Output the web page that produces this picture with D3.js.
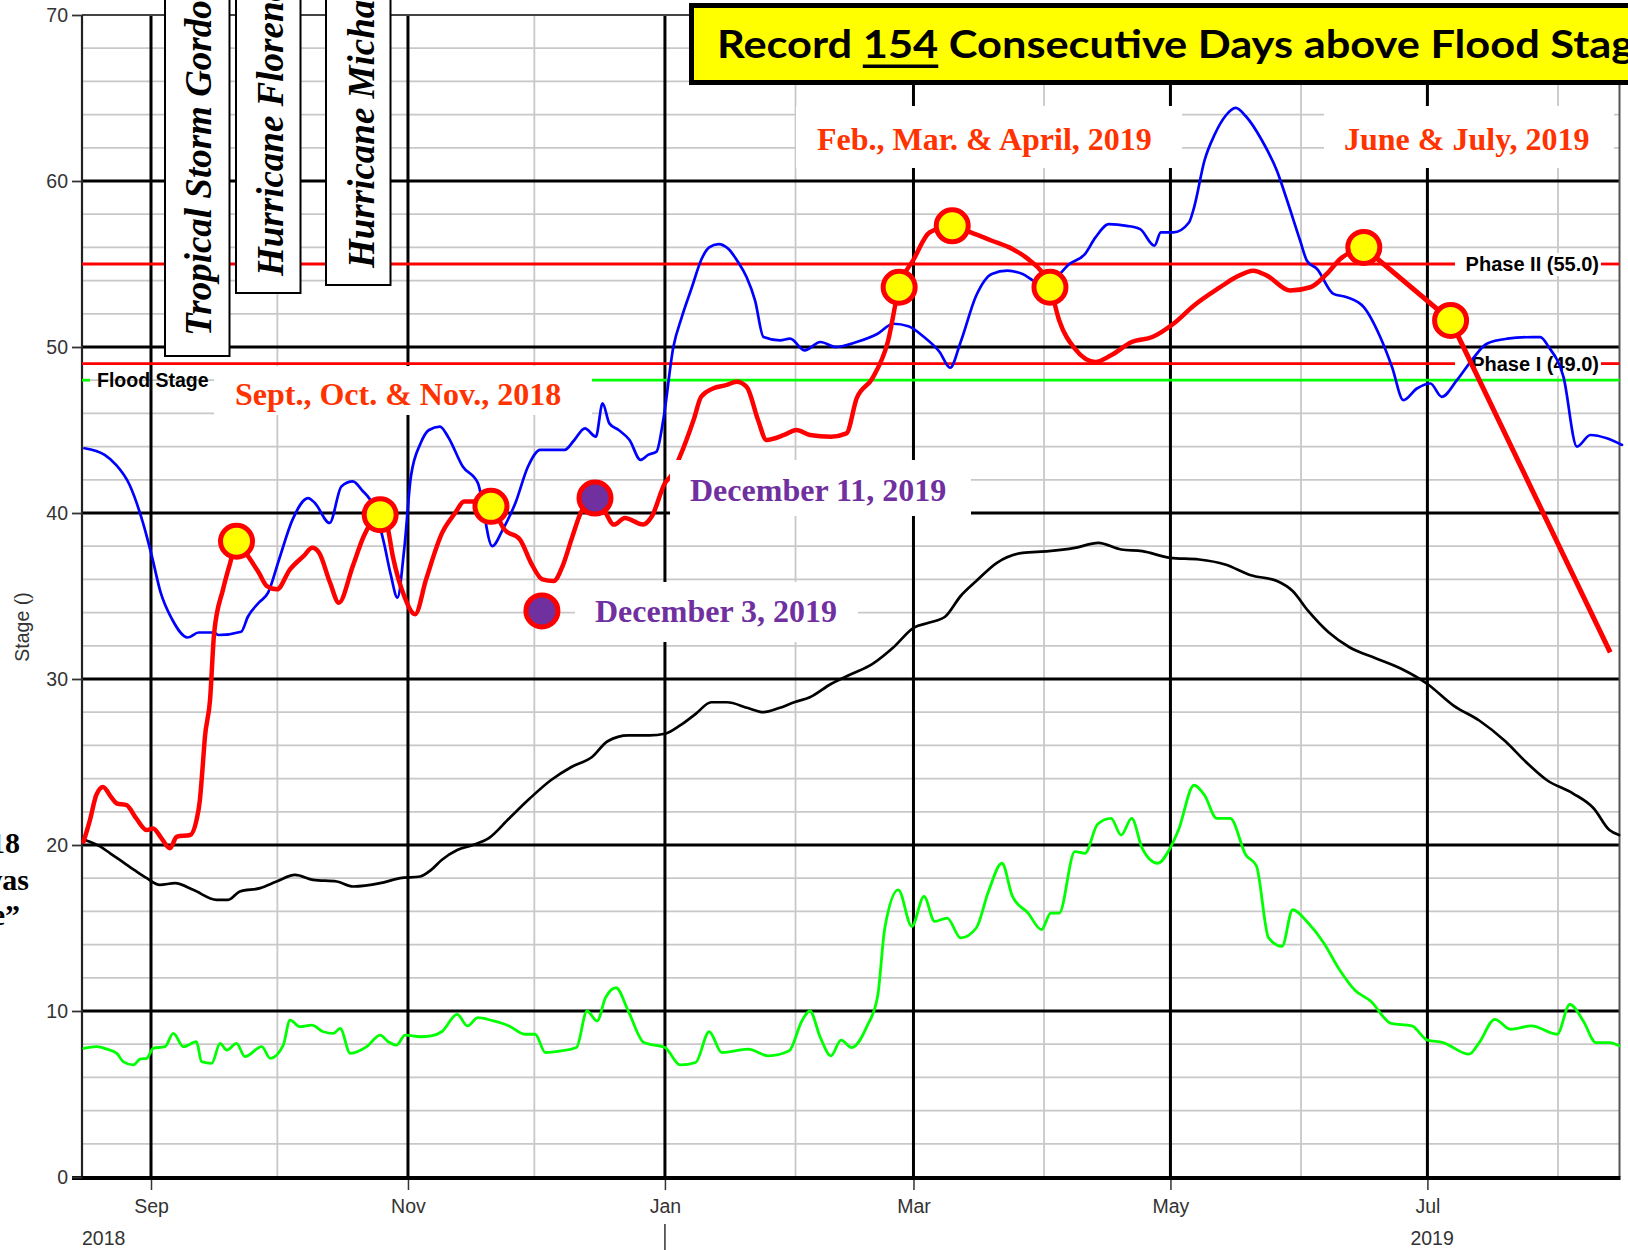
<!DOCTYPE html>
<html><head><meta charset="utf-8">
<script src="https://cdn.jsdelivr.net/npm/d3@7/dist/d3.min.js"></script>
<style>body{margin:0;background:#fff;}svg{display:block;}</style>
</head><body>
<svg id="chart" width="1628" height="1250"></svg>
<script>
// ---- data (day offsets from 2018-09-01, stage in ft) ----
const yTicks = [0, 10, 20, 30, 40, 50, 60, 70];
const monthLabels = ["Sep", "Nov", "Jan", "Mar", "May", "Jul"];
const majorMonths = ["2018-09-01", "2018-11-01", "2019-01-01", "2019-03-01", "2019-05-01", "2019-07-01"];
const minorMonths = ["2018-10-01", "2018-12-01", "2019-02-01", "2019-04-01", "2019-06-01", "2019-08-01"];
const yearLabels = ["2018", "2019"];
const floodStage = 48.0;
const phaseLevels = [55.0, 49.0];
const phaseLabels = ["Phase II (55.0)", "Phase I (49.0)"];

const blueSeries = [[-15.8,43.9],[-11,43.5],[-8.3,42.9],[-5.1,41.7],[-1.9,39.4],[0.2,37.4],[2.3,35.2],[5,33.6],[8.7,32.5],[11.3,32.8],[15,32.8],[16,32.65],[21.4,32.85],[23,33.75],[25.6,34.6],[27.8,35.2],[30.4,37.2],[33.6,39.6],[37.3,40.9],[38.9,40.6],[42.4,39.4],[45.2,41.6],[47.9,41.9],[50,41.4],[53.2,40.2],[55.3,38.2],[56.9,36.3],[58.5,34.9],[60.1,37.8],[61.7,42.2],[64,44.2],[66,45.0],[68.6,45.2],[70.5,44.6],[74,42.8],[77.6,41.8],[81,38.0],[83.5,39.0],[86.5,40.6],[89.5,42.8],[92.4,43.8],[98.2,43.8],[100.5,44.4],[103,45.1],[105.6,44.6],[107.2,46.6],[108.8,45.4],[111,45.0],[113.6,44.4],[116.2,43.2],[118,43.5],[120,43.7],[121.6,45.6],[124,50.0],[126,51.8],[128.4,53.6],[130.7,55.3],[132.5,56.0],[134.7,56.2],[137.1,55.9],[139.4,55.1],[141.4,54.2],[143.4,52.8],[145.4,50.6],[149.3,50.4],[151.7,50.5],[155.2,49.8],[158.9,50.3],[162.6,50.0],[167.5,50.3],[172.5,50.8],[176.2,51.4],[179.8,51.25],[183.5,50.6],[187.2,49.7],[189.7,48.75],[192.2,50.3],[195.9,53.1],[199.6,54.4],[203.3,54.6],[206.9,54.4],[210.6,53.9],[214.3,54.1],[218.0,55.0],[221.7,55.6],[224.2,56.6],[227.4,57.4],[231.6,57.3],[234.8,57.1],[238.2,56.1],[239.7,56.9],[242.7,56.9],[246.4,57.5],[247.6,58.4],[250.1,61.25],[252.5,62.8],[255.0,63.9],[257.5,64.4],[259.9,63.9],[263.6,62.5],[267.3,60.6],[269.6,58.9],[272.8,56.4],[274.4,55.2],[276.8,54.7],[280.7,53.2],[283.9,53.0],[287.9,52.4],[291.8,50.6],[294.6,48.8],[297.3,46.8],[300.5,47.5],[303.7,47.8],[306.4,47.0],[310,48.0],[313.5,49.2],[317.1,50.2],[321.9,50.5],[328.2,50.6],[329.8,50.6],[331.8,50.0],[335.3,48.2],[338.5,44.0],[341.7,44.7],[345.6,44.5],[349.2,44.1]];

const redSeries = [[-16.0,20.2],[-14.5,21.5],[-13,23.0],[-11.4,23.5],[-9.5,22.9],[-8.1,22.5],[-5.8,22.4],[-3.5,21.6],[-1,20.9],[0.5,21.0],[2.5,20.4],[4.5,19.8],[6.1,20.5],[9.3,20.6],[10.8,21.5],[11.6,22.7],[12.2,24.5],[12.8,26.5],[14.0,28.7],[15,32.8],[17.1,35.4],[18.8,37.0],[20.3,38.3],[22.5,37.6],[25.6,36.4],[27.5,35.6],[29.9,35.4],[33,36.6],[36.2,37.4],[38.3,37.9],[39.9,37.6],[42.5,35.8],[44.6,34.6],[47.9,36.8],[50.5,38.6],[54.4,39.9],[56,39.3],[57.4,37.4],[60.1,35.0],[62.7,33.9],[65.3,36.0],[69.1,38.8],[72.2,40.0],[74.3,40.7],[76.4,40.7],[80.7,40.4],[83.9,39.0],[87.6,38.4],[90.2,37.0],[92.9,36.0],[95.6,35.9],[97.7,36.8],[99.8,38.4],[102,40.0],[105.4,40.9],[107.5,40.2],[109.9,39.3],[112.5,39.7],[116.8,39.3],[118.9,39.8],[122,41.8],[123.6,42.3],[125.4,43.3],[128.8,45.6],[130.6,47.0],[133.4,47.5],[136.5,47.7],[139,47.9],[141.4,47.6],[144.1,45.6],[146.1,44.4],[150.3,44.7],[153.2,45.0],[156.4,44.7],[161.4,44.6],[165.1,44.8],[167.5,46.9],[171.2,48.1],[174.9,50.3],[177.6,53.6],[181.1,55.3],[184.8,56.9],[190.2,57.3],[194.6,56.9],[199.6,56.4],[204.5,55.9],[208.2,55.3],[213.4,53.6],[215.6,51.6],[219.3,49.9],[224.2,49.1],[227.9,49.5],[232.8,50.3],[237.7,50.6],[242.7,51.4],[247.6,52.5],[253.8,53.6],[257.5,54.2],[261.7,54.6],[264.9,54.3],[270.4,53.4],[275.2,53.6],[279.1,54.4],[282.3,55.3],[287.9,56.0]];

const blackSeries = [[-15.7,20.3],[-12,19.9],[-9.7,19.5],[-7.4,19.1],[-4,18.5],[-1,18.0],[2.1,17.6],[5.7,17.7],[10,17.3],[15.6,16.7],[18.3,16.7],[21.1,17.2],[25.9,17.4],[29.8,17.8],[34.2,18.2],[38.5,17.9],[44.1,17.8],[48,17.5],[54.4,17.7],[59.1,18.0],[63.9,18.1],[66.5,18.5],[69.0,19.1],[72.7,19.7],[76.4,20.0],[80.1,20.4],[85.0,21.6],[89.9,22.8],[94.9,23.9],[99.8,24.7],[104.7,25.3],[108.4,26.25],[113.3,26.6],[118.3,26.6],[122.0,26.7],[125.6,27.2],[129.3,27.9],[133.0,28.6],[136.7,28.6],[141.7,28.25],[145.4,28.0],[149.1,28.25],[152.7,28.6],[156.4,28.9],[161.4,29.7],[166.3,30.3],[171.2,30.9],[176.2,31.9],[181.1,33.1],[184.8,33.4],[188.5,33.75],[192.2,35.0],[195.9,35.9],[200.8,37.0],[206.9,37.6],[213.1,37.7],[219.3,37.9],[224.9,38.2],[230.3,37.8],[235.3,37.7],[241.9,37.3],[248.8,37.2],[255.0,36.9],[261.1,36.25],[267.3,35.9],[271.0,35.3],[274.7,34.1],[279.6,32.8],[284.6,31.9],[290.7,31.25],[296.9,30.6],[303.0,29.7],[309.2,28.4],[315.3,27.5],[321.5,26.25],[326.4,25.0],[331.4,23.9],[337.6,23.1],[342.5,22.2],[346.2,20.9],[348.5,20.6]];

const greenSeries = [[-16,7.75],[-12.9,7.85],[-10.5,7.7],[-8.1,7.45],[-6.6,6.95],[-4.2,6.75],[-2.6,7.1],[-1,7.15],[0.5,7.75],[3.3,7.85],[5.3,8.65],[7.7,7.85],[10.8,8.15],[12,6.95],[14.4,6.85],[16.4,8.05],[18,7.65],[20.3,8.05],[22.3,7.25],[26.3,7.85],[28.3,7.15],[31.4,7.95],[33,9.45],[35.4,9.05],[38.2,9.15],[40.9,8.75],[43.3,8.65],[44.9,8.95],[47.3,7.45],[51.2,7.85],[54.4,8.55],[56.3,8.15],[58.3,7.95],[60.3,8.55],[63.9,8.45],[66.5,8.5],[69.0,8.75],[72.7,9.8],[75.1,9.1],[77.6,9.6],[81.3,9.4],[85.0,9.1],[88.7,8.6],[91.2,8.6],[93.6,7.5],[97.3,7.6],[101.0,7.8],[103.5,10.0],[105.9,9.4],[107.9,10.8],[110.4,11.4],[113.3,10.0],[117.0,8.1],[122.0,7.8],[125.6,6.75],[129.3,6.9],[132.5,8.75],[135.5,7.5],[141.7,7.7],[146.6,7.3],[151.5,7.6],[154.5,9.4],[156.4,10.0],[158.9,8.4],[161.4,7.3],[163.8,8.25],[166.3,7.8],[170.0,9.1],[172.5,10.9],[174.2,15.0],[177.4,17.3],[180.6,15.1],[183.5,16.9],[186.0,15.4],[189.0,15.6],[192.2,14.4],[195.9,15.0],[198.8,17.2],[202.0,18.9],[204.5,16.9],[208.2,15.9],[211.4,14.9],[213.6,15.9],[215.6,15.9],[219.3,19.6],[221.7,19.5],[224.7,21.25],[227.9,21.6],[230.3,20.6],[232.8,21.6],[235.3,19.8],[239.0,18.9],[241.9,19.8],[243.9,20.9],[247.6,23.6],[250.1,23.0],[253.0,21.6],[256.2,21.6],[259.9,19.4],[262.4,18.75],[265.3,14.4],[268.5,13.9],[271.0,16.1],[274.7,15.3],[278.4,14.1],[282.1,12.5],[285.8,11.25],[289.5,10.6],[294.4,9.25],[299.3,9.1],[303.0,8.25],[306.7,8.1],[312.9,7.4],[315.3,8.1],[319.0,9.5],[322.7,8.9],[327.7,9.1],[333.8,8.6],[336.8,10.4],[340.0,9.4],[343.0,8.1],[346.2,8.1],[348.5,7.9]];

// highlighted points on the red trace (day, stage, fill)
const markerDays = [20.3, 54.4, 80.7, 105.4, 92.8, 177.6, 190.2, 213.4, 287.9, 308.5];
const markerVals = [38.3, 39.9, 40.4, 40.9, 34.1, 53.6, 57.3, 53.6, 56.0, 51.6];
const markerFill = ["#ffff00","#ffff00","#ffff00","#7030a0","#7030a0","#ffff00","#ffff00","#ffff00","#ffff00","#ffff00"];
// hand-drawn projection line
const projDays = [287.9, 308.5, 346.4];
const projVals = [56.0, 51.6, 31.6];

const stormNames = ["Tropical Storm Gordon", "Hurricane Florence", "Hurricane Michael"];
const periodLabels = ["Sept., Oct. & Nov., 2018", "Feb., Mar. & April, 2019", "June & July, 2019"];
const dateLabels = ["December 11, 2019", "December 3, 2019"];
const titleParts = ["Record ", "154", " Consecutive Days above Flood Stage"];

// ---- scales ----
const sep1 = Date.UTC(2018, 8, 1);
const dayToDate = d => new Date(sep1 + d * 864e5);
const x = d3.scaleUtc().domain([dayToDate(-16.38), dayToDate(348.6)]).range([82, 1619.5]);
const y = d3.scaleLinear().domain([0, 70]).range([1177, 15]);
const X0 = x.range()[0], X1 = x.range()[1], Y0 = y.range()[0], Y1 = y.range()[1];

const svg = d3.select("#chart");
svg.append("rect").attr("width", 1628).attr("height", 1250).attr("fill", "#fff");

// ---- grid ----
const grid = svg.append("g");
const minorY = d3.range(2, 70, 2).filter(v => v % 10 !== 0);
grid.selectAll(".hmin").data(minorY).join("line")
  .attr("x1", X0).attr("x2", X1).attr("y1", d => y(d)).attr("y2", d => y(d))
  .attr("stroke", "#c8c8c8").attr("stroke-width", 1.8);
grid.selectAll(".vmin").data(minorMonths).join("line")
  .attr("x1", d => x(new Date(d))).attr("x2", d => x(new Date(d))).attr("y1", Y1).attr("y2", Y0)
  .attr("stroke", "#c8c8c8").attr("stroke-width", 1.8);
grid.selectAll(".hmaj").data([10, 20, 30, 40, 50, 60]).join("line")
  .attr("x1", X0).attr("x2", X1).attr("y1", d => y(d)).attr("y2", d => y(d))
  .attr("stroke", "#000").attr("stroke-width", 3);
grid.selectAll(".vmaj").data(majorMonths).join("line")
  .attr("x1", d => x(new Date(d))).attr("x2", d => x(new Date(d))).attr("y1", Y1).attr("y2", Y0)
  .attr("stroke", "#000").attr("stroke-width", 3);
// frame
grid.append("line").attr("x1", X0).attr("x2", X1).attr("y1", Y1).attr("y2", Y1).attr("stroke", "#444").attr("stroke-width", 1.8);
grid.append("line").attr("x1", X1).attr("x2", X1).attr("y1", Y1).attr("y2", Y0).attr("stroke", "#555").attr("stroke-width", 2);
grid.append("line").attr("x1", X0).attr("x2", X0).attr("y1", Y1).attr("y2", Y0 + 2).attr("stroke", "#222").attr("stroke-width", 2.2);

// ---- axes ----
const axFont = "'Liberation Sans', Arial, sans-serif";
const xAxis = svg.append("g").attr("transform", `translate(0,${Y0 + 1})`)
  .call(d3.axisBottom(x).tickValues(majorMonths.map(d => new Date(d))).tickSize(12).tickPadding(9)
    .tickFormat((d, i) => monthLabels[i]));
xAxis.select(".domain").remove();
xAxis.selectAll("line").attr("stroke", "#333").attr("stroke-width", 1.5);
xAxis.selectAll("text").attr("font-family", axFont).attr("font-size", 19.5).attr("fill", "#333");
svg.append("line").attr("x1", X0 - 10).attr("x2", X1 + 1).attr("y1", Y0 + 1).attr("y2", Y0 + 1)
  .attr("stroke", "#000").attr("stroke-width", 4);

const yAxis = svg.append("g").attr("transform", `translate(${X0},0)`)
  .call(d3.axisLeft(y).tickValues(yTicks).tickSize(10).tickPadding(4));
yAxis.select(".domain").remove();
yAxis.selectAll("line").attr("stroke", "#333").attr("stroke-width", 1.8);
yAxis.selectAll("text").attr("font-family", axFont).attr("font-size", 19.5).attr("fill", "#333");

svg.append("text").attr("x", X0).attr("y", 1245).text(yearLabels[0])
  .attr("font-family", axFont).attr("font-size", 19.5).attr("fill", "#333");
svg.append("text").attr("x", x(new Date(majorMonths[5])) - 17).attr("y", 1245).text(yearLabels[1])
  .attr("font-family", axFont).attr("font-size", 19.5).attr("fill", "#333");
svg.append("line").attr("x1", x(new Date(majorMonths[2]))).attr("x2", x(new Date(majorMonths[2])))
  .attr("y1", 1224).attr("y2", 1250).attr("stroke", "#333").attr("stroke-width", 1.5);
svg.append("text").attr("transform", "translate(29,627) rotate(-90)").attr("text-anchor", "middle")
  .text("Stage ()").attr("font-family", axFont).attr("font-size", 19.5).attr("fill", "#333");

// ---- reference lines ----
const refs = svg.append("g");
function hseg(v, a, b, color) {
  refs.append("line").attr("x1", a).attr("x2", b).attr("y1", y(v)).attr("y2", y(v))
    .attr("stroke", color).attr("stroke-width", 2.8);
}
hseg(floodStage, X0, X0 + 8, "#00ff00");
hseg(floodStage, 214, X1, "#00ff00");
refs.append("text").attr("x", 97).attr("y", y(floodStage) + 7).text("Flood Stage")
  .attr("font-family", axFont).attr("font-weight", "bold").attr("font-size", 19.5).attr("fill", "#000");
phaseLevels.forEach((v, i) => {
  hseg(v, X0, 1455, "#ff0000");
  hseg(v, 1601, X1, "#ff0000");
  refs.append("rect").attr("x", 1457).attr("y", y(v) - 11).attr("width", 143).attr("height", 23).attr("fill", "#fff");
  refs.append("text").attr("x", 1599).attr("y", y(v) + 7).attr("text-anchor", "end").text(phaseLabels[i])
    .attr("font-family", axFont).attr("font-weight", "bold").attr("font-size", 20).attr("fill", "#000");
});

// ---- series ----
const line = d3.line().x(d => x(dayToDate(d[0]))).y(d => y(d[1])).curve(d3.curveMonotoneX);
const series = svg.append("g").attr("fill", "none").attr("stroke-linejoin", "round").attr("stroke-linecap", "round");
series.append("path").attr("d", line(greenSeries)).attr("stroke", "#00ff00").attr("stroke-width", 2.8);
series.append("path").attr("d", line(blackSeries)).attr("stroke", "#000").attr("stroke-width", 2.7);
series.append("path").attr("d", line(blueSeries)).attr("stroke", "#0000ff").attr("stroke-width", 2.7);
series.append("path").attr("d", line(redSeries)).attr("stroke", "#ff0000").attr("stroke-width", 4.5);

// ---- annotation boxes ----
const serif = "'Liberation Serif', 'Times New Roman', serif";
const ann = svg.append("g");
function labelBox(bx, by, bw, bh, tx, ty, txt, color, size) {
  ann.append("rect").attr("x", bx).attr("y", by).attr("width", bw).attr("height", bh).attr("fill", "#fff");
  ann.append("text").attr("x", tx).attr("y", ty).text(txt).attr("font-family", serif)
    .attr("font-weight", "bold").attr("font-size", size).attr("fill", color);
}
labelBox(214, 366, 378, 49, 235, 405, periodLabels[0], "#ff3300", 32);
labelBox(796, 106, 386, 62, 817, 150, periodLabels[1], "#ff3300", 32);
labelBox(1324, 106, 290, 62, 1344, 150, periodLabels[2], "#ff3300", 32);
labelBox(670, 460, 301, 56, 690, 501, dateLabels[0], "#7030a0", 32);
labelBox(575, 582, 283, 60, 595, 622, dateLabels[1], "#7030a0", 32);

// storm boxes
const storms = [[165, 356, 211, 336], [236, 293, 283, 276], [326, 285, 374, 268]];
storms.forEach((s, i) => {
  ann.append("rect").attr("x", s[0]).attr("y", -10).attr("width", 64.5).attr("height", s[1] + 10)
    .attr("fill", "#fff").attr("stroke", "#000").attr("stroke-width", 2);
  ann.append("text").attr("transform", `translate(${s[2]},${s[3]}) rotate(-90)`).text(stormNames[i])
    .attr("font-family", serif).attr("font-weight", "bold").attr("font-style", "italic")
    .attr("font-size", 37).attr("fill", "#000");
});

// ---- title ----
svg.append("rect").attr("x", 691.5).attr("y", 5.5).attr("width", 960).attr("height", 77)
  .attr("fill", "#ffff00").attr("stroke", "#000").attr("stroke-width", 5);
const title = svg.append("text").attr("x", 717).attr("y", 58)
  .attr("font-family", "Lato, 'Open Sans', sans-serif").attr("font-weight", "bold").attr("font-size", 39)
  .attr("fill", "#000").attr("textLength", 940).attr("lengthAdjust", "spacingAndGlyphs");
titleParts.forEach(t => title.append("tspan").text(t));
const tnode = title.node();
const u0 = tnode.getStartPositionOfChar(7).x, u1 = tnode.getEndPositionOfChar(9).x;
svg.append("rect").attr("x", u0).attr("y", 64.5).attr("width", u1 - u0).attr("height", 3.5).attr("fill", "#000");

// ---- projection line and markers ----
const proj = projDays.map((d, i) => [d, projVals[i]]);
svg.append("path").attr("d", d3.line().x(d => x(dayToDate(d[0]))).y(d => y(d[1]))(proj))
  .attr("fill", "none").attr("stroke", "#ff0000").attr("stroke-width", 5);
svg.append("g").selectAll("circle").data(markerDays).join("circle")
  .attr("cx", d => x(dayToDate(d))).attr("cy", (d, i) => y(markerVals[i])).attr("r", 16)
  .attr("fill", (d, i) => markerFill[i]).attr("stroke", "#ff0000").attr("stroke-width", 5);

// ---- cropped side note (left edge) ----
const note = [["In 2018", 20, 853], ["the river was", 29, 890], ["“above flood stage”", 20, 925]];
note.forEach(n => svg.append("text").attr("x", n[1]).attr("y", n[2]).attr("text-anchor", "end").text(n[0])
  .attr("font-family", serif).attr("font-weight", "bold").attr("font-size", 30).attr("fill", "#000"));
</script>
</body></html>
